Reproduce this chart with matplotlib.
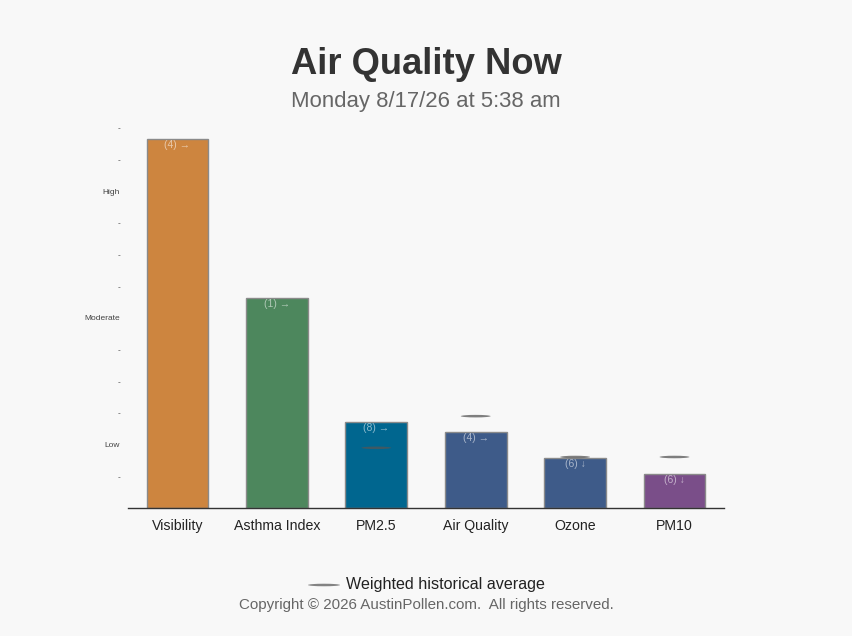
import numpy as np
import matplotlib.pyplot as plt
from matplotlib.patches import Ellipse

plt.rcParams['font.family'] = ['Liberation Sans', 'DejaVu Sans']

categories = ['Visibility', 'Asthma Index', 'PM2.5', 'Air Quality', 'Ozone', 'PM10']
values = [11.65, 6.63, 2.72, 2.4, 1.58, 1.07]
averages = [None, None, 1.9, 2.9, 1.61, 1.61]
bar_labels = ['(4) \u2192', '(1) \u2192', '(8) \u2192', '(4) \u2192', '(6) \u2193', '(6) \u2193']
colors = ['#cd853f', '#4d875d', '#00668f', '#3e5b89', '#3e5b89', '#7a4e89']
ytick_vals = list(range(1, 13))
ytick_text = ['-', 'Low', '-', '-', '-', 'Moderate', '-', '-', '-', 'High', '-', '-']

bg = '#f8f8f8'
fig = plt.figure(figsize=(8.52, 6.36), dpi=100, facecolor=bg)
ax = fig.add_axes([0.150, 0.2013, 0.700, 0.5974], facecolor=bg)

x = np.arange(len(categories))
ax.bar(x, values, width=0.62, color=colors, edgecolor='#8a8a8a', linewidth=1, zorder=2)

for xi, v, lab in zip(x, values, bar_labels):
    ax.text(xi, v - 0.2, lab, ha='center', va='center', fontsize=7.5,
            color='white', alpha=0.55, zorder=4)

for xi, a in zip(x, averages):
    if a is None:
        continue
    e = Ellipse((xi, a), width=0.3, height=0.08, facecolor='#555555',
                edgecolor='none', alpha=0.75, zorder=5)
    ax.add_patch(e)

ax.set_xlim(-0.5, len(categories) - 0.5)
ax.set_ylim(0, 12)
ax.set_xticks(x)
ax.set_xticklabels(categories, fontsize=10.2, color='#222222')
ax.set_yticks(ytick_vals)
ax.set_yticklabels(ytick_text, fontsize=6, color='#444444')
ax.tick_params(axis='x', length=0, pad=8)
ax.tick_params(axis='y', length=0, pad=5.5)
for s in ['top', 'right', 'left']:
    ax.spines[s].set_visible(False)
ax.spines['bottom'].set_color('#333333')
ax.spines['bottom'].set_linewidth(1)

fig.text(0.5, 0.898, 'Air Quality Now', ha='center', va='center', fontsize=26.2,
         fontweight='bold', color='#333333')
fig.text(0.5, 0.841, 'Monday 8/17/26 at 5:38 am', ha='center', va='center',
         fontsize=15.9, color='#666666')

# legend
lx0, lx1, ly = 308 / 852, 340 / 852, 1 - 585 / 636
fig.add_artist(Ellipse(((lx0 + lx1) / 2, ly), lx1 - lx0, 0.004, transform=fig.transFigure,
                       facecolor='#666666', edgecolor='none', alpha=0.8))
fig.text(346 / 852, ly, 'Weighted historical average', ha='left', va='center',
         fontsize=11.6, color='#222222')
fig.text(0.5, 1 - 605 / 636, 'Copyright \u00a9 2026 AustinPollen.com.  All rights reserved.',
         ha='center', va='center', fontsize=10.9, color='#666666')

fig.savefig('out.png', dpi=100, facecolor=bg)
